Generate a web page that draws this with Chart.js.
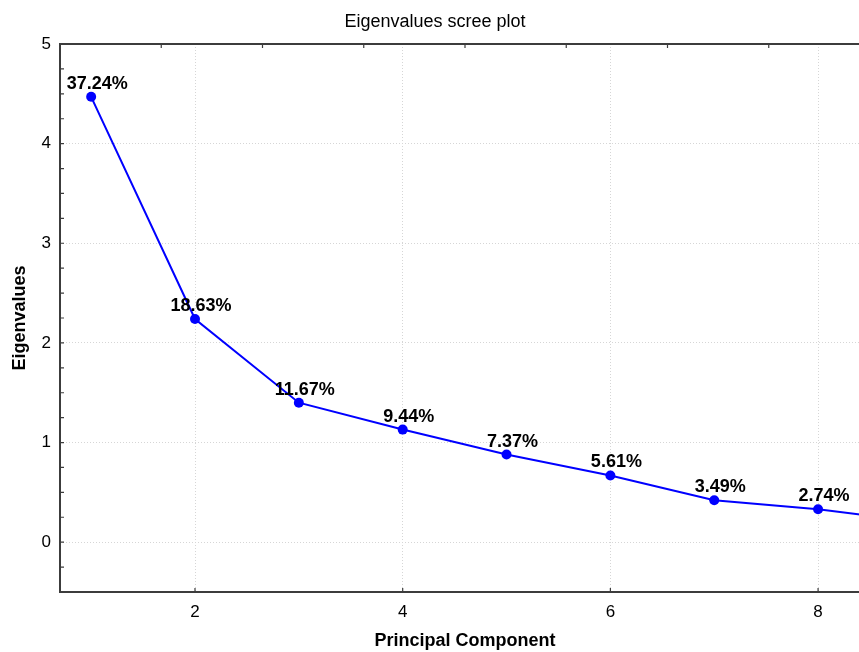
<!DOCTYPE html>
<html>
<head>
<meta charset="utf-8">
<title>Eigenvalues scree plot</title>
<script src="https://cdn.jsdelivr.net/npm/chart.js@4.4.1/dist/chart.umd.min.js"></script>
<style>
  html, body { margin: 0; padding: 0; background: #fff; overflow: hidden; }
  #wrap { width: 881px; height: 652px; }
</style>
</head>
<body>
<div id="wrap"><canvas id="myChart" width="881" height="652"></canvas></div>
<script>
// scree plot data
var components = [1, 2, 3, 4, 5, 6, 7, 8, 9];
var eigenvalues = [4.47, 2.24, 1.40, 1.13, 0.88, 0.67, 0.42, 0.33, 0.20];
var percentLabels = ['37.24%', '18.63%', '11.67%', '9.44%', '7.37%', '5.61%', '3.49%', '2.74%'];
var xTicks = [2, 4, 6, 8];
var yTicks = [0, 1, 2, 3, 4, 5];
var topTicks = [1, 2, 3, 4, 5, 6, 7];

var FONT = '"Liberation Sans", Arial, sans-serif';

var points = components.map(function (c, i) { return { x: c, y: eigenvalues[i] }; });

// frame, inward tick marks and the percentage labels
var screeDecor = {
  id: 'screeDecor',
  beforeDatasetsDraw: function (chart) {
    var ctx = chart.ctx, a = chart.chartArea;
    var xs = chart.scales.x, ys = chart.scales.y, x2 = chart.scales.x2;
    ctx.save();
    ctx.strokeStyle = '#3c3c3c';
    ctx.lineWidth = 1.2;
    ctx.beginPath();
    // minor ticks on the left axis every 0.25
    for (var v = -0.25; v < 5; v += 0.25) {
      var py = ys.getPixelForValue(v);
      ctx.moveTo(a.left, py);
      ctx.lineTo(a.left + 4, py);
    }
    xTicks.forEach(function (t) {
      var px = xs.getPixelForValue(t);
      ctx.moveTo(px, a.bottom);
      ctx.lineTo(px, a.bottom - 4);
    });
    topTicks.forEach(function (t) {
      var px = x2.getPixelForValue(t);
      ctx.moveTo(px, a.top);
      ctx.lineTo(px, a.top + 4);
    });
    ctx.stroke();
    ctx.lineWidth = 2;
    ctx.strokeRect(a.left, a.top, a.right - a.left, a.bottom - a.top);
    ctx.restore();
  },
  afterDatasetsDraw: function (chart) {
    var ctx = chart.ctx, a = chart.chartArea;
    var meta = chart.getDatasetMeta(0);
    ctx.save();
    ctx.fillStyle = '#000';
    ctx.font = 'bold 18px ' + FONT;
    ctx.textAlign = 'center';
    ctx.textBaseline = 'alphabetic';
    percentLabels.forEach(function (txt, i) {
      var el = meta.data[i];
      if (!el || el.x > a.right) return;
      ctx.fillText(txt, el.x + 6, el.y - 8);
    });
    ctx.restore();
  }
};

var ctx = document.getElementById('myChart').getContext('2d');
var chart = new Chart(ctx, {
  type: 'line',
  data: {
    datasets: [{
      label: 'Eigenvalues',
      data: points,
      borderColor: '#0000ff',
      backgroundColor: '#0000ff',
      borderWidth: 2,
      pointRadius: 5,
      pointHoverRadius: 5,
      pointBorderWidth: 0,
      tension: 0
    }]
  },
  options: {
    responsive: false,
    animation: false,
    layout: { padding: { right: 11 } },
    plugins: {
      legend: { display: false },
      tooltip: { enabled: false },
      title: {
        display: true,
        text: 'Eigenvalues scree plot',
        color: '#000',
        font: { family: FONT, size: 18, weight: 'normal' },
        padding: { top: 11, bottom: 11.4 }
      }
    },
    scales: {
      x: {
        type: 'linear',
        position: 'bottom',
        min: 0.7,
        max: 8.5,
        afterBuildTicks: function (s) { s.ticks = xTicks.map(function (v) { return { value: v }; }); },
        afterFit: function (s) { s.height = 60; },
        ticks: { color: '#000', font: { family: FONT, size: 17 }, padding: 10, maxRotation: 0 },
        grid: { color: '#d6d6d6', lineWidth: 1, drawTicks: false },
        border: { display: false, dash: [1, 2] },
        title: {
          display: true,
          text: 'Principal Component',
          color: '#000',
          font: { family: FONT, size: 18, weight: 'bold' },
          padding: { top: 0, bottom: 0 }
        }
      },
      x2: {
        type: 'linear',
        position: 'top',
        display: false,
        min: 0,
        max: 8
      },
      y: {
        type: 'linear',
        min: -0.5,
        max: 5,
        afterBuildTicks: function (s) { s.ticks = yTicks.map(function (v) { return { value: v }; }); },
        afterFit: function (s) { s.width = 60; },
        ticks: { color: '#000', font: { family: FONT, size: 17 }, padding: 9 },
        grid: { color: '#d6d6d6', lineWidth: 1, drawTicks: false },
        border: { display: false, dash: [1, 2] },
        title: {
          display: true,
          text: 'Eigenvalues',
          color: '#000',
          font: { family: FONT, size: 18, weight: 'bold' },
          padding: { top: 9, bottom: 0 }
        }
      }
    }
  },
  plugins: [screeDecor]
});
</script>
</body>
</html>
